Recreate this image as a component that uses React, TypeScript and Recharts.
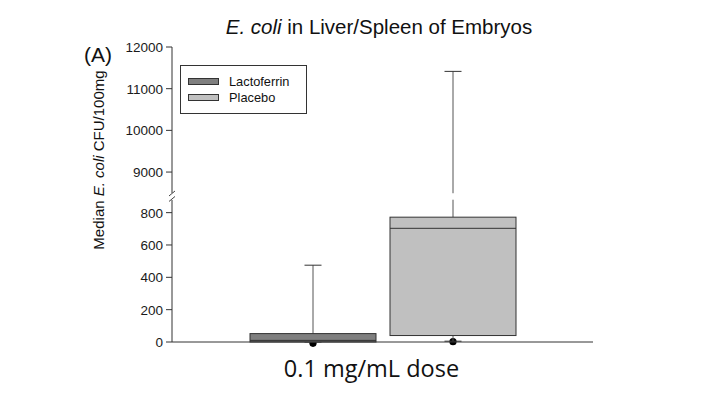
import React from 'react';
import { ComposedChart, Bar, XAxis, YAxis } from 'recharts';

// values
const doseLabel = '0.1 mg/mL dose';
const groups = ['Lactoferrin', 'Placebo'];
const groupColors = ['#7f7f7f', '#c0c0c0'];
const whiskerLow = [0, 5];
const q1 = [0, 40];
const median = [10, 703];
const q3 = [52, 772];
const whiskerHigh = [475, 11415];
const outliers = [[-8], [2]];

const lowerTicks = [0, 200, 400, 600, 800];
const upperTicks = [9000, 10000, 11000, 12000];

// broken axis: 0-880 drawn at full scale, 8400-12000 compressed above the break
const SPLIT = 5000;
const UPPER_BASE = 1051;
const UPPER_RATIO = 0.2578;
const toDisplay = (v: number) => (v < SPLIT ? v : UPPER_BASE + (v - 9000) * UPPER_RATIO);
const BREAK_D = 900;
const BREAK_HALF = 20;
const Y_MAX = toDisplay(12000);

const TICK_SIZE = 6;
const TICK_MARGIN = 3;
const FONT = '"Liberation Sans", Arial, sans-serif';

const row: any = { name: doseLabel };
groups.forEach((g, i) => {
  row[g] = [toDisplay(whiskerLow[i]), toDisplay(whiskerHigh[i])];
});
const data = [row];

const tickValues = [...lowerTicks.map(toDisplay), BREAK_D, ...upperTicks.map(toDisplay)];
const tickText: Record<string, string> = {};
lowerTicks.forEach((v) => (tickText[String(toDisplay(v))] = String(v)));
upperTicks.forEach((v) => (tickText[String(toDisplay(v))] = String(v)));

const YTick = (props: any) => {
  const { x, y, payload } = props;
  const axisX = x + TICK_SIZE + TICK_MARGIN;
  if (payload.value === BREAK_D) {
    return (
      <g>
        <rect x={axisX - 3} y={y - 3.5} width={6} height={7} fill="#fff" />
        <line x1={axisX - 3} y1={y - 0.5} x2={axisX + 3} y2={y - 5.5} stroke="#444" />
        <line x1={axisX - 3} y1={y + 5} x2={axisX + 3} y2={y} stroke="#444" />
      </g>
    );
  }
  return (
    <g>
      <line x1={axisX - TICK_SIZE} x2={axisX} y1={y} y2={y} stroke="#333" />
      <text x={x} y={y} dy="0.36em" textAnchor="end" fontSize={13.5} fontFamily={FONT} fill="#1a1a1a">
        {tickText[String(payload.value)]}
      </text>
    </g>
  );
};

const XTick = (props: any) => {
  const { x, y, payload } = props;
  return (
    <text x={x - 11} y={y} dy="0.74em" textAnchor="middle" fontSize={23.5} fontFamily='"Open Sans", sans-serif' fill="#111">
      {payload.value}
    </text>
  );
};

const BoxShape = (props: any) => {
  const { x, y, width, height, idx } = props;
  const top = Math.min(y, y + height);
  const bottom = Math.max(y, y + height);
  const lo = toDisplay(whiskerLow[idx]);
  const hi = toDisplay(whiskerHigh[idx]);
  const dispToPix = (d: number) => bottom - ((d - lo) / (hi - lo)) * (bottom - top);
  const toPix = (v: number) => dispToPix(toDisplay(v));
  const cx = x + width / 2;
  const cap = 8.5;
  const yQ1 = toPix(q1[idx]);
  const yQ3 = toPix(q3[idx]);
  const yMed = toPix(median[idx]);
  const yHi = toPix(whiskerHigh[idx]);
  const yLo = toPix(whiskerLow[idx]);
  const gapTop = dispToPix(BREAK_D + BREAK_HALF);
  const gapBot = dispToPix(BREAK_D - BREAK_HALF);
  const crossesBreak = hi > BREAK_D + BREAK_HALF;
  return (
    <g>
      {outliers[idx].map((v, k) => (
        <circle key={k} cx={cx} cy={toPix(v)} r={3.6} fill="#000" />
      ))}
      {crossesBreak ? (
        <>
          <line x1={cx} x2={cx} y1={yHi} y2={gapTop} stroke="#555" />
          <line x1={cx} x2={cx} y1={gapBot} y2={yQ3} stroke="#555" />
        </>
      ) : (
        <line x1={cx} x2={cx} y1={yHi} y2={yQ3} stroke="#555" />
      )}
      <line x1={cx - cap} x2={cx + cap} y1={yHi} y2={yHi} stroke="#333" />
      <line x1={cx} x2={cx} y1={yQ1} y2={yLo} stroke="#555" />
      <line x1={cx - cap} x2={cx + cap} y1={yLo} y2={yLo} stroke="#333" />
      <rect x={x} y={yQ3} width={width} height={Math.max(yQ1 - yQ3, 0.5)} fill={groupColors[idx]} stroke="#333" />
      <line x1={x} x2={x + width} y1={yMed} y2={yMed} stroke="#333" />
    </g>
  );
};

export default function App() {
  return (
    <div style={{ position: 'absolute', left: 0, top: 0, width: 719, height: 398, background: '#fff' }}>
      <ComposedChart
        width={719}
        height={398}
        data={data}
        margin={{ top: 47, right: 126, bottom: 0, left: 112 }}
        barSize={126}
        barGap={14}
      >
        <XAxis dataKey="name" type="category" height={56} tickLine={false} axisLine={{ stroke: '#333' }} tick={<XTick />} tickMargin={12} />
        <YAxis
          type="number"
          width={60}
          domain={[0, Y_MAX]}
          ticks={tickValues}
          interval={0}
          tickLine={false}
          tickSize={TICK_SIZE}
          tickMargin={TICK_MARGIN}
          axisLine={{ stroke: '#333' }}
          tick={<YTick />}
        />
        {groups.map((g, i) => (
          <Bar key={g} dataKey={g} isAnimationActive={false} shape={(p: any) => <BoxShape {...p} idx={i} />} />
        ))}
      </ComposedChart>

      <svg width={719} height={398} style={{ position: 'absolute', left: 0, top: 0, pointerEvents: 'none' }}>
        <text x={379} y={34} textAnchor="middle" fontSize={20.5} fontFamily={FONT} fill="#111">
          <tspan fontStyle="italic">E. coli</tspan> in Liver/Spleen of Embryos
        </text>
        <text x={98} y={62} textAnchor="middle" fontSize={21} fontFamily={FONT} fill="#111">
          (A)
        </text>
        <text
          transform="translate(104,160) rotate(-90)"
          textAnchor="middle"
          fontSize={15}
          fontFamily={FONT}
          fill="#111"
        >
          Median <tspan fontStyle="italic">E. coli</tspan> CFU/100mg
        </text>
      </svg>

      <div
        style={{
          position: 'absolute',
          left: 180,
          top: 65,
          width: 127,
          height: 49,
          border: '1px solid #333',
          fontFamily: FONT,
          fontSize: 12.8,
          color: '#111',
          boxSizing: 'border-box',
        }}
      >
        {groups.map((g, i) => (
          <div key={g} style={{ position: 'absolute', left: 7, top: 7 + i * 16, display: 'flex', alignItems: 'center', height: 16 }}>
            <span style={{ width: 31, height: 7, background: groupColors[i], border: '1px solid #333', boxSizing: 'border-box', marginRight: 10 }} />
            <span>{g}</span>
          </div>
        ))}
      </div>
    </div>
  );
}
